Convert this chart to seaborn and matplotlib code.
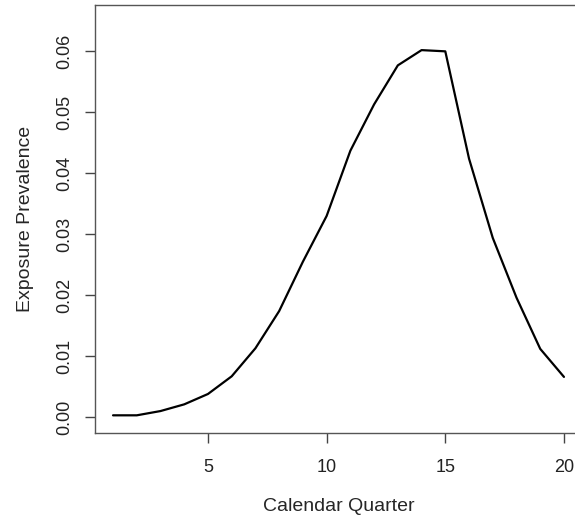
import numpy as np
import matplotlib
matplotlib.use("Agg")
import matplotlib.pyplot as plt
import seaborn as sns
import pandas as pd

quarter = np.arange(1, 21)
prevalence = np.array([0.0003, 0.0003, 0.0010, 0.0021, 0.0038, 0.0067, 0.0113, 0.0174,
                       0.0255, 0.0330, 0.0437, 0.0513, 0.0577, 0.0602, 0.0600, 0.0424,
                       0.0294, 0.0196, 0.0112, 0.0066])
x_ticks = [5, 10, 15, 20]
y_ticks = [0.00, 0.01, 0.02, 0.03, 0.04, 0.05, 0.06]

sns.set_style("white")
plt.rcParams['font.family'] = ['Liberation Sans', 'DejaVu Sans']

df = pd.DataFrame({"quarter": quarter, "prevalence": prevalence})

fig = plt.figure(figsize=(5.75, 5.2), dpi=100)
ax = fig.add_axes([95 / 575, 87 / 520, 487 / 575, 428 / 520])
sns.lineplot(data=df, x="quarter", y="prevalence", color="black", linewidth=1.6, ax=ax)

ax.set_xlim(0.24, 20.76)
ax.set_ylim(-0.0026, 0.0676)
ax.set_xticks(x_ticks)
ax.set_yticks(y_ticks)
ax.set_yticklabels([f"{v:.2f}" for v in y_ticks], rotation=90, va="center")
ax.tick_params(axis="both", direction="out", length=7, width=1, color="#444444",
               labelsize=13, labelcolor="#222222", pad=9, left=True, bottom=True)
ax.tick_params(axis="x", pad=11.5)
for s in ax.spines.values():
    s.set_color("#555555")
    s.set_linewidth(1)

ax.set_xlabel("Calendar Quarter", fontsize=14, labelpad=16)
ax.set_ylabel("Exposure Prevalence", fontsize=14, labelpad=16)

fig.savefig("out.png", dpi=100)
